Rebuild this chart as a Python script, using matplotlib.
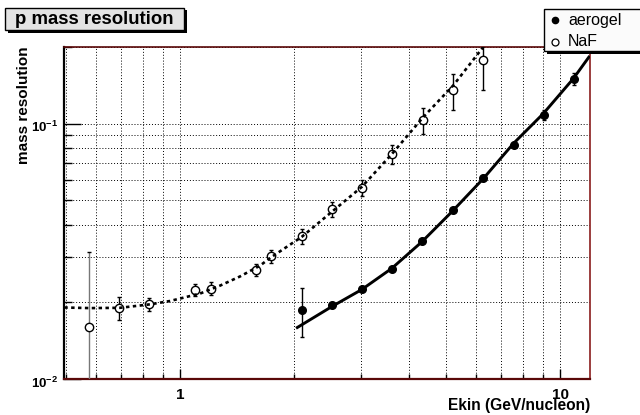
import matplotlib
matplotlib.use('Agg')
import matplotlib.pyplot as plt
from matplotlib.patches import Rectangle
from matplotlib.lines import Line2D
from matplotlib.ticker import FixedLocator, NullFormatter
import matplotlib.transforms as mtransforms

# ---------------- data ----------------
naf_x = [0.576, 0.692, 0.830, 1.095, 1.205, 1.585, 1.733, 2.090, 2.507, 3.018, 3.621, 4.368, 5.220, 6.283]
naf_y = [0.0160, 0.0190, 0.0196, 0.0224, 0.0226, 0.0267, 0.0303, 0.0363, 0.0462, 0.0560, 0.0759, 0.1030, 0.1350, 0.1779]
naf_err = [0.0155, 0.0020, 0.0012, 0.0012, 0.0013, 0.0014, 0.0018, 0.0025, 0.0033, 0.0040, 0.0065, 0.0123, 0.0217, 0.0430]

aer_x = [2.090, 2.507, 3.008, 3.621, 4.341, 5.220, 6.283, 7.568, 9.076, 10.90]
aer_y = [0.0187, 0.0194, 0.0225, 0.0269, 0.0346, 0.0457, 0.0615, 0.0828, 0.1084, 0.1494]
aer_err = [0.0041, 0.0003, 0.0004, 0.0005, 0.0006, 0.0008, 0.0012, 0.0018, 0.0050, 0.0080]

naf_fit_x = [0.496, 0.58, 0.695, 0.834, 0.941, 1.129, 1.274, 1.438, 1.624, 1.733, 2.090, 2.507, 3.008, 3.607, 4.368, 5.239, 6.037, 6.543]
naf_fit_y = [0.01905, 0.01895, 0.0190, 0.0196, 0.0202, 0.0216, 0.0232, 0.0252, 0.0278, 0.0299, 0.0360, 0.0451, 0.0565, 0.0759, 0.1061, 0.1412, 0.1850, 0.2157]

aer_fit_x = [2.020, 2.507, 3.008, 3.607, 4.326, 5.188, 6.283, 7.536, 9.036, 10.84, 11.97]
aer_fit_y = [0.0158, 0.0192, 0.0224, 0.0271, 0.0344, 0.0451, 0.0609, 0.0835, 0.1094, 0.1500, 0.1840]

x_major = [1, 10]
x_major_labels = ['1', '10']
x_minor = [0.5, 0.6, 0.7, 0.8, 0.9, 2, 3, 4, 5, 6, 7, 8, 9]
y_major = [0.01, 0.1]
y_major_labels = [r'$\mathbf{10^{-2}}$', r'$\mathbf{10^{-1}}$']
y_minor = [0.02, 0.03, 0.04, 0.05, 0.06, 0.07, 0.08, 0.09, 0.2]

title = 'p mass resolution'
xlabel = 'Ekin (GeV/nucleon)'
ylabel = 'mass resolution'
legend_labels = ['aerogel', 'NaF']

# ---------------- style ----------------
plt.rcParams['font.family'] = ['Liberation Sans', 'DejaVu Sans']
plt.rcParams['mathtext.fontset'] = 'custom'
plt.rcParams['mathtext.rm'] = 'Liberation Sans'
plt.rcParams['mathtext.bf'] = 'Liberation Sans:bold'

W, H = 640, 415
fig = plt.figure(figsize=(6.4, 4.15), dpi=100)
fig.patch.set_facecolor('white')

def fx(px):
    return px / W

def fy(py):
    return 1 - py / H

L, R, T, B = 64.3, 589.7, 46.7, 379.0
ax = fig.add_axes([fx(L), fy(B), (R - L) / W, (B - T) / H])
ax.set_xscale('log')
ax.set_yscale('log')
ax.set_xlim(0.496, 11.97)
ax.set_ylim(0.01, 0.2)

ax.xaxis.set_major_locator(FixedLocator(x_major))
ax.xaxis.set_minor_locator(FixedLocator(x_minor))
ax.set_xticklabels(x_major_labels, fontsize=11, fontweight='bold')
ax.xaxis.set_minor_formatter(NullFormatter())
ax.yaxis.set_major_locator(FixedLocator(y_major))
ax.yaxis.set_minor_locator(FixedLocator(y_minor))
ax.set_yticklabels(['', ''])
ax.yaxis.set_minor_formatter(NullFormatter())

ax.tick_params(which='both', direction='in', top=False, right=False, width=1, color='black')
ax.tick_params(axis='x', which='major', length=7, pad=6.5)
ax.tick_params(axis='x', which='minor', length=3.6)
ax.tick_params(axis='y', which='major', length=12)
ax.tick_params(axis='y', which='minor', length=6)

ax.grid(True, which='both', color='black', linestyle=(0, (1, 2)), linewidth=0.7)
ax.set_axisbelow(True)

ax.spines['left'].set_color('black')
ax.spines['left'].set_linewidth(1.6)
ax.spines['bottom'].set_color('#5a0808')
ax.spines['bottom'].set_linewidth(1.6)
ax.spines['top'].set_color('#5a0808')
ax.spines['top'].set_linewidth(1.2)
ax.spines['right'].set_color('#8a1c1c')
ax.spines['right'].set_linewidth(1.2)

# y tick labels (ROOT places them slightly below the tick)
trans_y = mtransforms.offset_copy(
    mtransforms.blended_transform_factory(ax.transAxes, ax.transData),
    fig=fig, x=-6, y=-4, units='dots')
for v, lab in zip(y_major, y_major_labels):
    ax.text(0, v, lab, transform=trans_y, ha='right', va='center', fontsize=9.5)

# data
eb_n = ax.errorbar(naf_x, naf_y, yerr=naf_err, fmt='o', mfc='white', mec='black',
                   ms=6, mew=1, ecolor='black', elinewidth=1, capsize=1.5,
                   capthick=1, zorder=3)
cols = ['#777777'] + ['black'] * (len(naf_x) - 1)
eb_n[2][0].set_colors(cols)
ax.errorbar(aer_x, aer_y, yerr=aer_err, fmt='o', mfc='black', mec='black',
            ms=5.5, mew=1, ecolor='black', elinewidth=1, capsize=1.5,
            capthick=1, zorder=3)

ax.plot(naf_fit_x, naf_fit_y, color='black', lw=1.9, linestyle=(0, (1.3, 1.3)),
        dash_capstyle='butt', zorder=4)
ax.plot(aer_fit_x, aer_fit_y, color='black', lw=2.1, linestyle='-', zorder=4,
        solid_capstyle='butt')

# axis titles
fig.text(fx(24.5), fy(46.7), ylabel, rotation=90, ha='center', va='top',
         fontsize=11, fontweight='bold')
fig.text(fx(590), fy(405), xlabel, ha='right', va='center',
         fontsize=11.2, fontweight='bold')

# title box with shadow
fig.patches.append(Rectangle((fx(7.5), fy(33)), 179 / W, 22.5 / H,
                             transform=fig.transFigure, facecolor='black',
                             edgecolor='none', zorder=5))
fig.patches.append(Rectangle((fx(5), fy(30.5)), 179 / W, 22.5 / H,
                             transform=fig.transFigure, facecolor='#e3e3e3',
                             edgecolor='black', lw=1, zorder=6))
fig.text(fx(94.5), fy(19.5), title, ha='center', va='center', fontsize=13.4,
         fontweight='bold', zorder=7)

# legend with shadow
fig.patches.append(Rectangle((fx(547), fy(54.5)), 98 / W, 42 / H,
                             transform=fig.transFigure, facecolor='black',
                             edgecolor='none', zorder=5))
fig.patches.append(Rectangle((fx(544), fy(51)), 100 / W, 42 / H,
                             transform=fig.transFigure, facecolor='#fbfbfb',
                             edgecolor='black', lw=1, zorder=6))
fig.add_artist(Line2D([fx(555)], [fy(20.5)], marker='o', ms=4.5, mfc='black',
                      mec='black', linestyle='none', transform=fig.transFigure, zorder=7))
fig.add_artist(Line2D([fx(555)], [fy(42)], marker='o', ms=5, mfc='white',
                      mec='black', mew=0.9, linestyle='none', transform=fig.transFigure, zorder=7))
fig.text(fx(568), fy(20.5), legend_labels[0], ha='left', va='center', fontsize=11.5, zorder=7)
fig.text(fx(568), fy(42), legend_labels[1], ha='left', va='center', fontsize=11.5, zorder=7)

fig.savefig('out.png', dpi=100)
